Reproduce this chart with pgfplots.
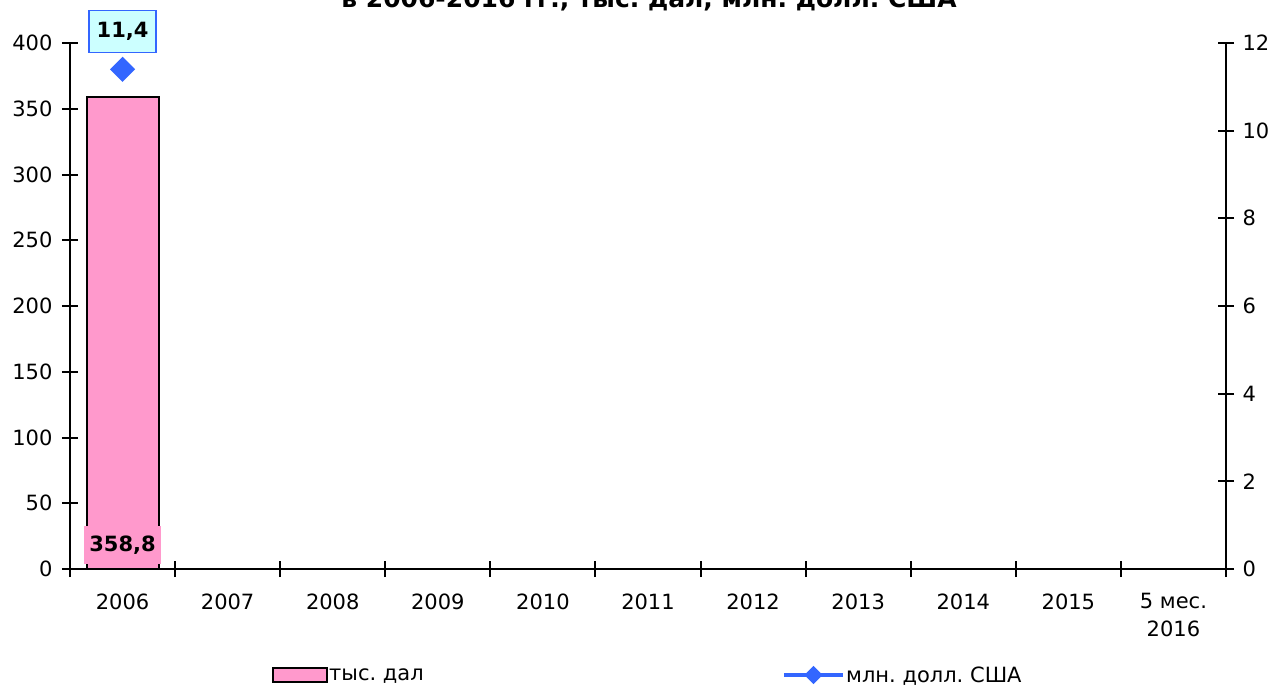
\documentclass[border=0pt]{standalone}
\usepackage{pgfplots}
\pgfplotsset{compat=1.18}
\usepackage{fontspec}
\setmainfont{DejaVu Sans}
\frenchspacing
\definecolor{barpink}{HTML}{FF99CC}
\definecolor{lineblue}{HTML}{3366FF}
\definecolor{labelcyan}{HTML}{CCFFFF}
\newcommand{\tf}{\fontsize{21}{28}\selectfont}
\begin{document}
\begin{tikzpicture}
\useasboundingbox (-70pt,-122pt) rectangle (1215pt,569pt);
\pgfplotsset{
  every tick label/.append style={font=\tf},
  /pgf/number format/assume math mode=true,
}
\begin{axis}[
  at={(0pt,0pt)}, anchor=south west,
  scale only axis, width=1156pt, height=526pt,
  xmin=-0.5, xmax=10.5, ymin=0, ymax=400,
  axis x line*=bottom, axis y line*=left,
  axis line style={-, line width=2pt},
  xtick={0,...,10},
  xticklabels={2006,2007,2008,2009,2010,2011,2012,2013,2014,2015,{5 мес.\\2016}},
  xticklabel style={align=center, yshift=-13pt},
  major x tick style={draw=none},
  minor xtick={-0.5,0.5,...,10.5},
  minor tick length=16pt, major tick length=16pt, tick align=center,
  tick style={line width=2pt, black},
  ytick={0,50,...,400},
  yticklabel style={xshift=-6pt},
]
\addplot[ybar, bar width=0.685, fill=barpink, draw=black, line width=2pt] coordinates {(0,358.8)};
\node[fill=barpink, font=\tf\bfseries, anchor=south, minimum width=77pt, minimum height=38pt, inner sep=0pt, yshift=5pt] at (axis cs:0,0) {358,8};
\end{axis}
\begin{axis}[
  at={(0pt,0pt)}, anchor=south west,
  scale only axis, width=1156pt, height=526pt,
  xmin=-0.5, xmax=10.5, ymin=0, ymax=12,
  axis y line*=right, axis x line=none,
  axis line style={-, line width=2pt},
  major tick length=16pt, tick align=center,
  tick style={line width=2pt, black},
  ytick={0,2,...,12},
  yticklabel style={xshift=5pt},
  legend columns=2,
  legend style={draw=none, fill=none, inner sep=0pt, at={(0.1743,-0.2015)}, anchor=west,
    font=\tf, nodes={inner sep=1.5pt, anchor=west},
    /tikz/every even column/.append style={column sep=357pt}},
]
\addlegendimage{legend image code/.code={\draw[fill=barpink, draw=black, line width=2pt] (0pt,-7pt) rectangle (54pt,7pt);}}
\addlegendentry{тыс. дал}
\addplot[color=lineblue, line width=3pt, mark=square*, mark size=7.4pt, mark options={rotate=45},
  point meta=explicit symbolic,
  nodes near coords,
  every node near coord/.append style={text=black, font=\tf\bfseries, draw=lineblue, fill=labelcyan, line width=1.5pt, anchor=south, yshift=16pt, minimum width=67pt, minimum height=42pt},
  legend image code/.code={\draw[lineblue, line width=3.5pt] (0pt,0pt)--(59pt,0pt); \fill[lineblue] (29.5pt,0pt) +(0,7pt) -- +(7pt,0) -- +(0,-7pt) -- +(-7pt,0) -- cycle;}
] coordinates {(0,11.4) [11,4]};
\addlegendentry{млн. долл. США}
\end{axis}
\node[font=\fontsize{25}{30}\selectfont\bfseries, anchor=base] at (579pt,561pt) {в 2006-2016 гг., тыс. дал, млн. долл. США};
\end{tikzpicture}
\end{document}
